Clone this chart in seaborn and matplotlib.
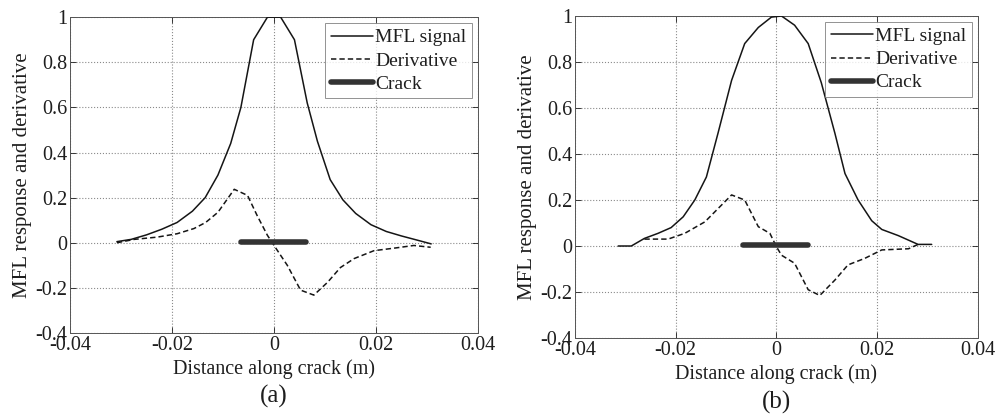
import numpy as np
import pandas as pd
import matplotlib
matplotlib.use("Agg")
import matplotlib.pyplot as plt
from matplotlib.ticker import FixedLocator, FuncFormatter
import seaborn as sns

# ---- panel (a) ----
a_mfl_x = [-0.0308, -0.028, -0.025, -0.022, -0.019, -0.016, -0.0135, -0.011, -0.0085,
           -0.0065, -0.004, -0.0013, 0.0013, 0.004, 0.0065, 0.0085, 0.011, 0.0135,
           0.016, 0.019, 0.022, 0.025, 0.028, 0.0308]
a_mfl_y = [0.005, 0.015, 0.035, 0.06, 0.09, 0.14, 0.2, 0.3, 0.44, 0.6, 0.9, 1.0, 1.0,
           0.9, 0.62, 0.45, 0.28, 0.19, 0.13, 0.08, 0.05, 0.03, 0.012, -0.005]
a_der_x = [-0.0308, -0.0274, -0.0229, -0.019, -0.0157, -0.0134, -0.011, -0.0078, -0.0052,
           -0.0033, -0.0013, 0.0, 0.0026, 0.0052, 0.0078, 0.0105, 0.013, 0.0157,
           0.0196, 0.0235, 0.0274, 0.0307]
a_der_y = [0.0, 0.015, 0.025, 0.04, 0.063, 0.09, 0.135, 0.237, 0.21, 0.12, 0.033, -0.012,
           -0.1, -0.21, -0.232, -0.175, -0.11, -0.07, -0.035, -0.024, -0.012, -0.02]
a_crack_x = [-0.0064, 0.0063]
a_crack_y = [0.005, 0.005]

# ---- panel (b) ----
b_mfl_x = [-0.0314, -0.0288, -0.0262, -0.0235, -0.0209, -0.0185, -0.0162, -0.0139,
           -0.0116, -0.0089, -0.0063, -0.0036, -0.001, 0.001, 0.0036, 0.0063, 0.0089,
           0.0116, 0.0136, 0.0162, 0.0189, 0.0209, 0.0242, 0.0281, 0.0308]
b_mfl_y = [0.0, 0.0, 0.033, 0.055, 0.08, 0.127, 0.2, 0.3, 0.49, 0.72, 0.88, 0.95, 0.995,
           1.0, 0.96, 0.88, 0.71, 0.49, 0.315, 0.2, 0.11, 0.072, 0.045, 0.007, 0.007]
b_der_x = [-0.0262, -0.0215, -0.0182, -0.0142, -0.0089, -0.0063, -0.0036, -0.0013, 0.0,
           0.001, 0.0036, 0.0063, 0.0086, 0.0116, 0.0142, 0.0175, 0.0209, 0.0262, 0.0281]
b_der_y = [0.03, 0.03, 0.055, 0.105, 0.222, 0.2, 0.084, 0.055, -0.003, -0.04, -0.075,
           -0.19, -0.215, -0.148, -0.082, -0.054, -0.017, -0.012, 0.007]
b_crack_x = [-0.0066, 0.0063]
b_crack_y = [0.003, 0.003]

x_ticks = [-0.04, -0.02, 0, 0.02, 0.04]
y_ticks = [-0.4, -0.2, 0, 0.2, 0.4, 0.6, 0.8, 1]
series_names = ["MFL signal", "Derivative", "Crack"]
panel_labels = ["(a)", "(b)"]

sns.set_style("white")
plt.rcParams["font.family"] = ["Liberation Serif", "DejaVu Serif"]
plt.rcParams["text.color"] = "#1e1e1e"
plt.rcParams["axes.labelcolor"] = "#1e1e1e"
plt.rcParams["xtick.color"] = "#1e1e1e"
plt.rcParams["ytick.color"] = "#1e1e1e"

fig = plt.figure(figsize=(9.98, 4.15), dpi=100)
ax_a = fig.add_axes([0.0701, 0.1976, 0.409, 0.761])
ax_b = fig.add_axes([0.576, 0.1855, 0.404, 0.776])

panels = [
    (ax_a, a_mfl_x, a_mfl_y, a_der_x, a_der_y, a_crack_x, a_crack_y),
    (ax_b, b_mfl_x, b_mfl_y, b_der_x, b_der_y, b_crack_x, b_crack_y),
]


def fmt(v, pos):
    return "%g" % round(v, 4)


for i, (ax, mx, my, dx, dy, cx, cy) in enumerate(panels):
    sns.lineplot(x=mx, y=my, ax=ax, color="#151515", linewidth=1.1, sort=False,
                 label=series_names[0], zorder=3)
    sns.lineplot(x=dx, y=dy, ax=ax, color="#151515", linewidth=1.1, sort=False,
                 label=series_names[1], zorder=3)
    sns.lineplot(x=cx, y=cy, ax=ax, color="#333333", linewidth=4.0, sort=False,
                 label=series_names[2], zorder=4)
    ax.lines[1].set_dashes((3.5, 2))

    ax.set_xlim(-0.04, 0.04)
    ax.set_ylim(-0.4, 1.0)
    ax.xaxis.set_major_locator(FixedLocator(x_ticks))
    ax.yaxis.set_major_locator(FixedLocator(y_ticks))
    ax.xaxis.set_major_formatter(FuncFormatter(fmt))
    ax.yaxis.set_major_formatter(FuncFormatter(fmt))
    ax.tick_params(direction="in", length=4, width=0.6, labelsize=14.5, pad=2,
                   top=True, right=True, bottom=True, left=True)
    ax.grid(True, linestyle=":", linewidth=0.8, color="#8a8a8a")
    for sp in ax.spines.values():
        sp.set_visible(True)
        sp.set_color("#555555")
        sp.set_linewidth(0.7)
    ax.set_xlabel("Distance along crack (m)", fontsize=14.5, labelpad=3)
    ax.set_ylabel("MFL response and derivative", fontsize=15, labelpad=2)

    leg = ax.legend(loc="upper right", fontsize=14, frameon=True, fancybox=False,
                    borderaxespad=0.3, handlelength=2.2, handletextpad=0.1,
                    labelspacing=0.28, borderpad=0.3)
    leg.get_frame().set_edgecolor("#777777")
    leg.get_frame().set_linewidth(0.7)

    ax.text(0.5, -0.165, panel_labels[i], transform=ax.transAxes, ha="center",
            va="top", fontsize=18)

fig.savefig("out.png", dpi=100)
